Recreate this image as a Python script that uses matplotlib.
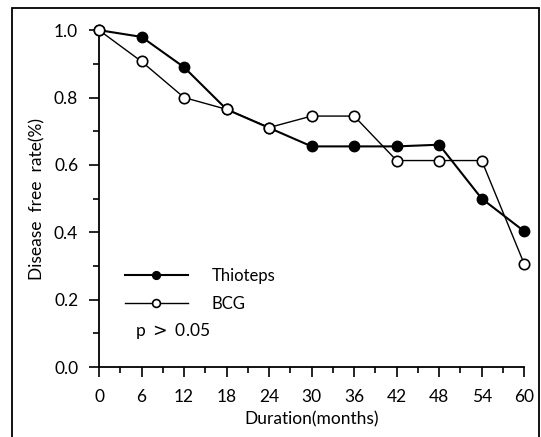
import numpy as np
import matplotlib
matplotlib.use('Agg')
import matplotlib.pyplot as plt
from matplotlib.patches import Rectangle

# Data
months = [0, 6, 12, 18, 24, 30, 36, 42, 48, 54, 60]
thioteps = [1.0, 0.98, 0.89, 0.765, 0.71, 0.655, 0.655, 0.655, 0.66, 0.50, 0.403]
bcg = [1.0, 0.907, 0.80, 0.765, 0.711, 0.745, 0.745, 0.613, 0.613, 0.613, 0.306]
xticks = [0, 6, 12, 18, 24, 30, 36, 42, 48, 54, 60]
yticks = [0.0, 0.2, 0.4, 0.6, 0.8, 1.0]

plt.rcParams['font.family'] = ['Lato', 'DejaVu Sans']

fig = plt.figure(figsize=(5.41, 4.37), dpi=100)
ax = fig.add_axes([0.183, 0.160, 0.786, 0.771])

# Thioteps (filled)
ax.plot(months, thioteps, color='black', lw=1.5, marker='o', ms=7.5,
        mfc='black', mec='black', label='Thioteps', clip_on=False, zorder=3)
# BCG (open)
ax.plot(months, bcg, color='black', lw=1.0, marker='o', ms=7.5,
        mfc='white', mec='black', mew=1.2, label='BCG', clip_on=False, zorder=4)

ax.set_xlim(0, 60)
ax.set_ylim(0, 1.0)
ax.set_xticks(xticks)
ax.set_xticks(np.arange(3, 60, 6), minor=True)
ax.set_yticks(yticks)
ax.set_yticks([0.1, 0.3, 0.5, 0.7, 0.9], minor=True)
ax.set_yticklabels(['%.1f' % v for v in yticks])

for s in ['top', 'right']:
    ax.spines[s].set_visible(False)
for s in ['left', 'bottom']:
    ax.spines[s].set_linewidth(1.3)

ax.tick_params(axis='both', which='major', direction='out', length=7, width=1.2,
               labelsize=12.5)
ax.tick_params(axis='x', which='major', pad=9)
ax.tick_params(axis='y', which='major', pad=8)
ax.tick_params(axis='both', which='minor', direction='out', length=4, width=1.2)

ax.set_xlabel('Duration(months)', fontsize=12.5, labelpad=4)
ax.set_ylabel('Disease  free  rate(%)', fontsize=12.5, labelpad=6)

leg = ax.legend(loc='upper left', bbox_to_anchor=(0.025, 0.34), frameon=False,
                fontsize=12, handlelength=3.8, handletextpad=1.4,
                labelspacing=0.75, markerscale=0.75)

ax.text(0.085, 0.108, 'p $>$ 0.05', transform=ax.transAxes, fontsize=12.5,
        ha='left', va='center')

# outer frame of the scanned figure
fig.patches.append(Rectangle((12 / 541, -0.05), (539 - 12) / 541, 1.05 - 8 / 437,
                             transform=fig.transFigure, fill=False,
                             edgecolor='black', lw=1.3))

fig.savefig('out.png', dpi=100)
